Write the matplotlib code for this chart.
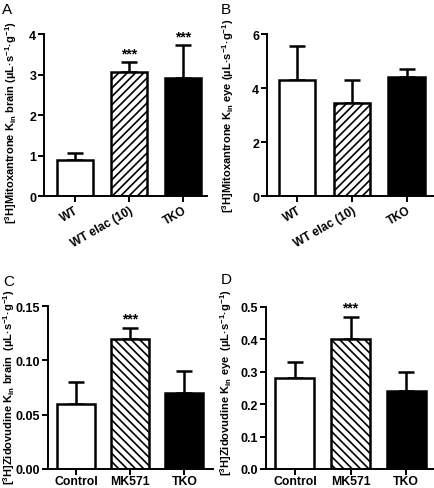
import matplotlib

matplotlib.use("Agg")
import matplotlib.pyplot as plt

plt.rcParams["font.family"] = "Liberation Sans"
plt.rcParams["font.weight"] = "bold"
plt.rcParams["mathtext.fontset"] = "custom"
plt.rcParams["mathtext.rm"] = "Liberation Sans:bold"
plt.rcParams["mathtext.it"] = "Liberation Sans:italic:bold"
plt.rcParams["mathtext.bf"] = "Liberation Sans:bold"
plt.rcParams["mathtext.default"] = "rm"
plt.rcParams["hatch.linewidth"] = 1.2

# ---------------------------------------------------------------------------
# Data
# ---------------------------------------------------------------------------
groups_mito = ["WT", "WT elac (10)", "TKO"]
groups_zdv = ["Control", "MK571", "TKO"]

mito_brain = [0.90, 3.05, 2.92]
mito_brain_err = [0.17, 0.25, 0.80]
mito_eye = [4.30, 3.45, 4.40]
mito_eye_err = [1.25, 0.85, 0.30]

zdv_brain = [0.060, 0.120, 0.070]
zdv_brain_err = [0.020, 0.010, 0.020]
zdv_eye = [0.28, 0.40, 0.24]
zdv_eye_err = [0.05, 0.07, 0.06]

sig_mito_brain = ["", "***", "***"]
sig_mito_eye = ["", "", ""]
sig_zdv_brain = ["", "***", ""]
sig_zdv_eye = ["", "***", ""]

W, H = 434, 489
fig = plt.figure(figsize=(W / 100, H / 100), dpi=100)


def px_axes(x0, x1, ytop, ybot):
    return fig.add_axes([x0 / W, (H - ybot) / H, (x1 - x0) / W, (ybot - ytop) / H])


def panel(ax, labels, vals, errs, sig, hatch, ylim, yticks, fmt, ylabel,
          label_y, xlim, width, rotate):
    faces = ["white", "white", "black"]
    hatches = [None, hatch, None]
    x = range(len(vals))
    for i in x:
        ax.bar(i, vals[i], width=width, color=faces[i], edgecolor="black",
               linewidth=1.8, hatch=hatches[i], zorder=2)
        ax.errorbar(i, vals[i], yerr=[[0], [errs[i]]], fmt="none",
                    ecolor="black", elinewidth=1.8, capsize=6, capthick=1.8,
                    zorder=1)
        if sig[i]:
            ax.text(i, vals[i] + errs[i] + ylim[1] * 0.012, sig[i],
                    ha="center", va="bottom", fontsize=10, fontweight="bold")
    ax.set_xlim(*xlim)
    ax.set_ylim(*ylim)
    ax.set_yticks(yticks)
    ax.set_yticklabels([fmt.format(v) for v in yticks], fontsize=9,
                       fontweight="bold")
    ax.set_xticks(list(x))
    for s in ["top", "right"]:
        ax.spines[s].set_visible(False)
    for s in ["left", "bottom"]:
        ax.spines[s].set_linewidth(1.4)
    ax.tick_params(direction="out", width=1.4, length=4, pad=1.5)
    if rotate:
        ax.set_xticklabels(labels, rotation=30, ha="right",
                           rotation_mode="anchor", fontsize=8.5,
                           fontweight="bold")
    else:
        ax.set_xticklabels(labels, fontsize=8.8, fontweight="bold")
        ax.tick_params(axis="x", pad=0.5)
    ax.set_ylabel(ylabel, fontsize=8, fontweight="bold")
    ax.yaxis.set_label_coords(label_y[0], label_y[1])


unit = r"(µL·s$^{-1}$·g$^{-1}$)"

ax_a = px_axes(44, 207, 35, 197)
panel(ax_a, groups_mito, mito_brain, mito_brain_err, sig_mito_brain, "////",
      (0, 4), [0, 1, 2, 3, 4], "{:.0f}",
      r"[$^{3}$H]Mitoxantrone $K_{in}$ brain " + unit, (-0.155, 0.46),
      (-0.57, 2.45), 0.67, True)

ax_b = px_axes(267, 434, 35, 197)
panel(ax_b, groups_mito, mito_eye, mito_eye_err, sig_mito_eye, "////",
      (0, 6), [0, 2, 4, 6], "{:.0f}",
      r"[$^{3}$H]Mitoxantrone $K_{in}$ eye " + unit, (-0.185, 0.5),
      (-0.55, 2.5), 0.67, True)

ax_c = px_axes(48, 213, 307, 470)
panel(ax_c, groups_zdv, zdv_brain, zdv_brain_err, sig_zdv_brain, "\\\\\\\\",
      (0, 0.15), [0, 0.05, 0.10, 0.15], "{:.2f}",
      r"[$^{3}$H]Zidovudine $K_{in}$ brain  " + unit, (-0.19, 0.51),
      (-0.52, 2.53), 0.7, False)

ax_d = px_axes(266, 434, 308, 470)
panel(ax_d, groups_zdv, zdv_eye, zdv_eye_err, sig_zdv_eye, "\\\\\\\\",
      (0, 0.5), [0, 0.1, 0.2, 0.3, 0.4, 0.5], "{:.1f}",
      r"[$^{3}$H]Zidovudine $K_{in}$ eye  " + unit, (-0.19, 0.54),
      (-0.52, 2.5), 0.7, False)

for letter, fx, fy in [("A", 2, 3), ("B", 221, 3), ("C", 3, 275), ("D", 221, 273)]:
    fig.text(fx / W, 1 - fy / H, letter, fontsize=11, fontweight="normal",
             ha="left", va="top")

fig.savefig("out.png", dpi=100)
